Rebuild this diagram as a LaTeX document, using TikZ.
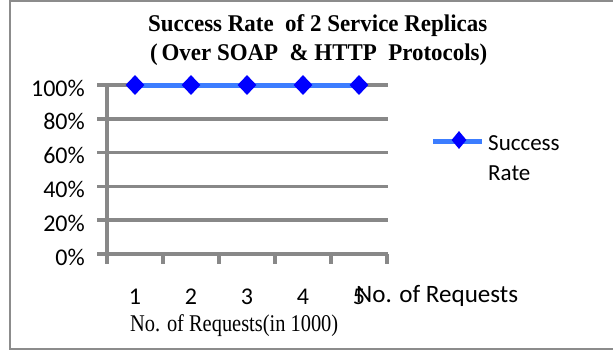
\documentclass[tikz,border=0pt]{standalone}
\usepackage{fontspec}
\setmainfont{Liberation Serif}
\newfontfamily\chartsans{Carlito}
\usetikzlibrary{shapes.geometric}
\definecolor{gridgray}{RGB}{136,136,136}
\definecolor{framegray}{RGB}{140,140,140}
\definecolor{seriesblue}{RGB}{60,125,255}
\definecolor{markblue}{RGB}{0,0,255}
% squeeze a box horizontally to a given width, keeping its height
\newcommand\squeezeto[2]{\resizebox{#1}{\height}{#2}}
\begin{document}
\begin{tikzpicture}[x=1pt,y=-1pt,
  gridline/.style={gridgray,line width=3.5pt},
  seriesline/.style={seriesblue,line width=5pt},
  marker/.style={diamond,fill=markblue,draw=none,inner sep=0pt,
    minimum width=19pt,minimum height=20pt},
  legendmarker/.style={marker,minimum width=15pt,minimum height=18pt},
  ylabel/.style={anchor=base east,inner sep=0pt,font=\chartsans\fontsize{24}{24}\selectfont},
  xlabel/.style={anchor=base,inner sep=0pt,font=\chartsans\fontsize{24}{24}\selectfont},
  plain/.style={anchor=base west,inner sep=0pt}]
\useasboundingbox (0,0) rectangle (613,351);

% chart frame (open on the right)
\draw[framegray,line width=2.5pt] (613,1) -- (10,1) -- (10,349) -- (613,349);

% title
\node[plain] (title1) at (148,31)
  {\squeezeto{339pt}{\fontsize{24}{24}\selectfont\bfseries Success Rate\ \ of 2 Service Replicas}};
\node[plain] (title2) at (150,60)
  {\squeezeto{337pt}{\fontsize{24}{24}\selectfont\bfseries (\,Over SOAP\ \ \& HTTP\ \ Protocols)}};

% horizontal gridlines with their left ticks, and value labels
\foreach \v [count=\i from 0] in {0,20,40,60,80,100} {
  \pgfmathsetmacro\yy{254-33.8*\i}
  \draw[gridline] (97,\yy) -- (388,\yy);
  \node[ylabel] (ylab\v) at (85,\yy+11) {\v\%};
}

% vertical axis and category ticks
\draw[gridline] (107,85) -- (107,264);
\foreach \k in {1,...,5} {
  \draw[gridline] (107+56*\k,254) -- (107+56*\k,264);
}

% category labels
\foreach \k in {1,...,5} {
  \node[xlabel] (xlab\k) at (135+56*\k-56,304) {\k};
}

% axis titles
\node[plain] (xtitle) at (356,302)
  {\squeezeto{162pt}{\chartsans\fontsize{25}{25}\selectfont No. of Requests}};
\node[plain] (xunit) at (130,331)
  {\squeezeto{208pt}{\fontsize{24}{24}\selectfont No. of Requests(in 1000)}};

% data series: success rate 100% for every category
\foreach \k in {1,...,5} {
  \coordinate (p\k) at (135+56*\k-56,85);
}
\draw[seriesline] (p1) -- (p2) -- (p3) -- (p4) -- (p5);
\foreach \k in {1,...,5} {
  \node[marker] (m\k) at (p\k) {};
}

% legend
\coordinate (legA) at (433,141);
\coordinate (legB) at (482,141);
\draw[seriesline] (legA) -- (legB);
\node[legendmarker] (legmark) at (459,140) {};
\node[plain,font=\chartsans\fontsize{23}{23}\selectfont] (leg1) at (488,150) {Success};
\node[plain,font=\chartsans\fontsize{23}{23}\selectfont] (leg2) at (488,180) {Rate};
\end{tikzpicture}
\end{document}
